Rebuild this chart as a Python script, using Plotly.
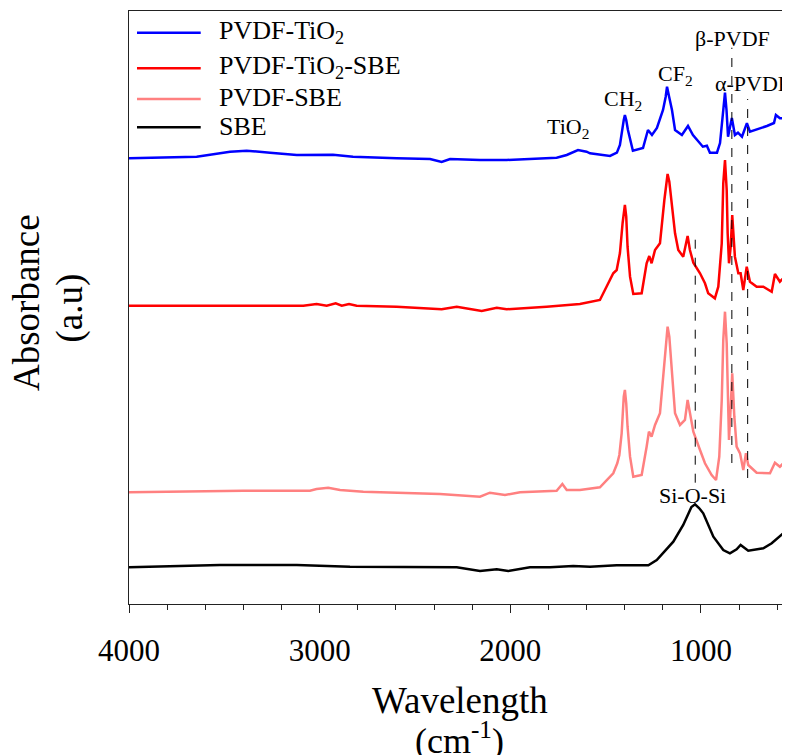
import plotly.graph_objects as go

# ---------------- data ----------------
blue_wn = [4000, 3645, 3470, 3383, 3260, 3120, 2930, 2825, 2596, 2421, 2360, 2316, 2159, 2019,
           1757, 1704, 1645, 1600, 1582, 1477, 1441, 1425, 1405, 1399, 1392, 1383, 1357, 1304, 1278, 1257,
           1231, 1199, 1185, 1178, 1167, 1152, 1136, 1100, 1068, 1042, 990, 969, 953, 916, 900, 883, 874, 866, 858,
           838, 822, 806, 785, 759, 743, 654, 617, 607, 586, 549, 533]
blue_abs = [4.457, 4.473, 4.523, 4.533, 4.513, 4.49, 4.493, 4.473, 4.457, 4.45, 4.42, 4.45, 4.44, 4.44,
            4.463, 4.49, 4.54, 4.523, 4.507, 4.48, 4.513, 4.59, 4.84, 4.89, 4.84, 4.74, 4.533, 4.56, 4.74, 4.69,
            4.76, 4.94, 5.073, 5.173, 5.073, 4.94, 4.74, 4.69, 4.78, 4.69, 4.573, 4.583, 4.513, 4.513, 4.61, 4.973, 5.113, 4.94, 4.673,
            4.86, 4.69, 4.713, 4.673, 4.807, 4.723, 4.78, 4.81, 4.89, 4.857, 4.857, 4.96]

red_wn = [4000, 3086, 3016, 2963, 2916, 2884, 2846, 2806, 2596, 2360, 2281, 2150, 2071, 2019, 1809,
          1635, 1530, 1460, 1442, 1425, 1411, 1405, 1399, 1392, 1385, 1372, 1355, 1311, 1285, 1271, 1259, 1241,
          1215, 1192, 1183, 1175, 1166, 1154, 1136, 1119, 1093, 1070, 1058, 1040, 1005, 979, 962, 927, 909, 891,
          883, 874, 865, 860, 853, 844, 836, 822, 804, 792, 778, 760, 743, 708, 673, 629, 612, 586, 551, 533]
red_abs = [2.983, 2.983, 3.0, 2.983, 3.007, 2.983, 3.0, 2.983, 2.973, 2.947, 2.973, 2.93, 2.963, 2.947, 2.973,
           3.0, 3.04, 3.307, 3.34, 3.51, 3.81, 3.94, 3.99, 3.873, 3.573, 3.273, 3.10, 3.107, 3.407, 3.48, 3.407, 3.54,
           3.607, 4.04, 4.207, 4.30, 4.223, 4.04, 3.707, 3.54, 3.473, 3.68, 3.54, 3.413, 3.307, 3.207, 3.107, 3.057, 3.173, 3.607,
           4.207, 4.44, 4.14, 3.707, 3.407, 3.573, 3.89, 3.473, 3.307, 3.307, 3.14, 3.373, 3.223, 3.173, 3.173, 3.123, 3.30, 3.223, 3.29, 3.423]

pink_wn = [4000, 3400, 3051, 3016, 2955, 2893, 2771, 2369, 2159, 2107, 2028, 1949, 1757, 1727, 1704,
           1635, 1530, 1460, 1439, 1428, 1416, 1405, 1399, 1392, 1385, 1372, 1355, 1311, 1285, 1273, 1259, 1241,
           1215, 1194, 1183, 1175, 1166, 1154, 1136, 1110, 1084, 1070, 1058, 1040, 1005, 979, 944, 921, 904, 891,
           883, 874, 865, 860, 853, 844, 836, 825, 813, 795, 778, 764, 752, 708, 638, 612, 586, 568, 533]
pink_abs = [1.117, 1.133, 1.133, 1.15, 1.163, 1.14, 1.123, 1.10, 1.073, 1.113, 1.09, 1.117, 1.133, 1.20, 1.14,
            1.14, 1.167, 1.307, 1.407, 1.49, 1.707, 2.073, 2.14, 2.007, 1.773, 1.473, 1.273, 1.29, 1.573, 1.723, 1.673, 1.79,
            1.907, 2.373, 2.673, 2.773, 2.673, 2.373, 1.907, 1.79, 1.84, 2.04, 1.907, 1.723, 1.54, 1.407, 1.29, 1.24, 1.473, 2.04,
            2.64, 2.923, 2.607, 2.107, 1.64, 1.973, 2.307, 1.873, 1.573, 1.507, 1.34, 1.507, 1.39, 1.313, 1.307, 1.413, 1.373, 1.407, 1.473]

black_wn = [4000, 3645, 3523, 3120, 2841, 2281, 2159, 2071, 2011, 1897, 1792, 1670, 1582, 1442, 1276,
            1232, 1145, 1093, 1050, 1031, 1010, 988, 935, 883, 848, 813, 792, 752, 673, 629, 568, 533]
black_abs = [0.367, 0.38, 0.39, 0.39, 0.373, 0.367, 0.33, 0.347, 0.33, 0.367, 0.367, 0.38, 0.373, 0.387, 0.387,
             0.44, 0.623, 0.79, 0.97, 0.997, 0.96, 0.907, 0.673, 0.54, 0.507, 0.547, 0.59, 0.533, 0.557, 0.607, 0.707, 0.723]

series_names = ["PVDF-TiO<sub>2</sub>", "PVDF-TiO<sub>2</sub>-SBE", "PVDF-SBE", "SBE"]
series_colors = ["#0000FF", "#FF0000", "#FF8080", "#000000"]

# band markers: (wavenumber, top, bottom)
band_lines = [(1030, 3.66, 1.213), (838, 5.563, 1.41), (755, 5.05, 1.26)]
# band labels: (text, wavenumber, absorbance, xanchor)
band_labels = [("β-PVDF", 833, 5.66, "center"),
               ("α-PVDF", 937, 5.21, "left"),
               ("CF<sub>2</sub>", 1136, 5.29, "center"),
               ("CH<sub>2</sub>", 1409, 5.04, "center"),
               ("TiO<sub>2</sub>", 1698, 4.76, "center"),
               ("Si-O-Si", 1042, 1.09, "center")]

x_ticks = [4000, 3000, 2000, 1000]

FONT = "Liberation Serif, Times New Roman, serif"

fig = go.Figure()
for name, color, xs, ys in zip(series_names, series_colors,
                               [blue_wn, red_wn, pink_wn, black_wn],
                               [blue_abs, red_abs, pink_abs, black_abs]):
    fig.add_trace(go.Scatter(x=xs, y=ys, mode="lines", name=name, showlegend=False,
                             line=dict(color=color, width=2.5)))

for wn, top, bot in band_lines:
    fig.add_shape(type="line", xref="x", yref="y", x0=wn, x1=wn, y0=bot, y1=top,
                  line=dict(color="black", width=1, dash="dash"))

for text, wn, a, xa in band_labels:
    fig.add_annotation(x=wn, y=a, xref="x", yref="y", text=text, showarrow=False,
                       xanchor=xa, yanchor="middle", font=dict(family=FONT, size=22, color="black"))

# legend (drawn in the upper-left corner of the plot)
legend_line_y = [0.9634, 0.9034, 0.8516, 0.8039]
for name, color, ly in zip(series_names, series_colors, legend_line_y):
    fig.add_shape(type="line", xref="paper", yref="paper", x0=0.0121, x1=0.1085, y0=ly, y1=ly,
                  line=dict(color=color, width=2.5))
    fig.add_annotation(xref="paper", yref="paper", x=0.1331, y=ly + 0.002, xanchor="left",
                       yanchor="middle", text=name, showarrow=False,
                       font=dict(family=FONT, size=26, color="black"))

# axis titles
fig.add_annotation(xref="paper", yref="paper", x=-0.1543, y=0.5076, text="Absorbance",
                   textangle=-90, showarrow=False, xanchor="center", yanchor="middle",
                   font=dict(family=FONT, size=37, color="black"))
fig.add_annotation(xref="paper", yref="paper", x=-0.0893, y=0.5, text="(a.u)",
                   textangle=-90, showarrow=False, xanchor="center", yanchor="middle",
                   font=dict(family=FONT, size=37, color="black"))
fig.add_annotation(xref="paper", yref="paper", x=0.5, y=-0.1619, text="Wavelength",
                   showarrow=False, xanchor="center", yanchor="middle",
                   font=dict(family=FONT, size=37, color="black"))
fig.add_annotation(xref="paper", yref="paper", x=0.5, y=-0.226, yanchor="middle",
                   text="(cm<sup>-1</sup>)", showarrow=False,
                   font=dict(family=FONT, size=36, color="black"))

fig.update_layout(
    width=782, height=747,
    margin=dict(l=121, r=0, t=3, b=151, autoexpand=False),
    paper_bgcolor="white", plot_bgcolor="white",
    font=dict(family=FONT, color="black"),
    showlegend=False,
)
fig.update_xaxes(range=[4000, 533], tickvals=x_ticks, ticktext=[str(t) for t in x_ticks],
                 ticks="outside", ticklen=8, tickwidth=1, tickcolor="#222", ticklabelstandoff=11,
                 minor=dict(dtick=200, tick0=0, ticks="outside", ticklen=5, tickwidth=1, tickcolor="#222"),
                 showline=True, linecolor="#222", linewidth=1.2, mirror=True,
                 showgrid=False, zeroline=False,
                 tickfont=dict(family=FONT, size=31, color="black"))
fig.update_yaxes(range=[0, 5.93], showticklabels=False, ticks="",
                 showline=True, linecolor="#222", linewidth=1.2,
                 showgrid=False, zeroline=False)

fig.write_html("out.html")
